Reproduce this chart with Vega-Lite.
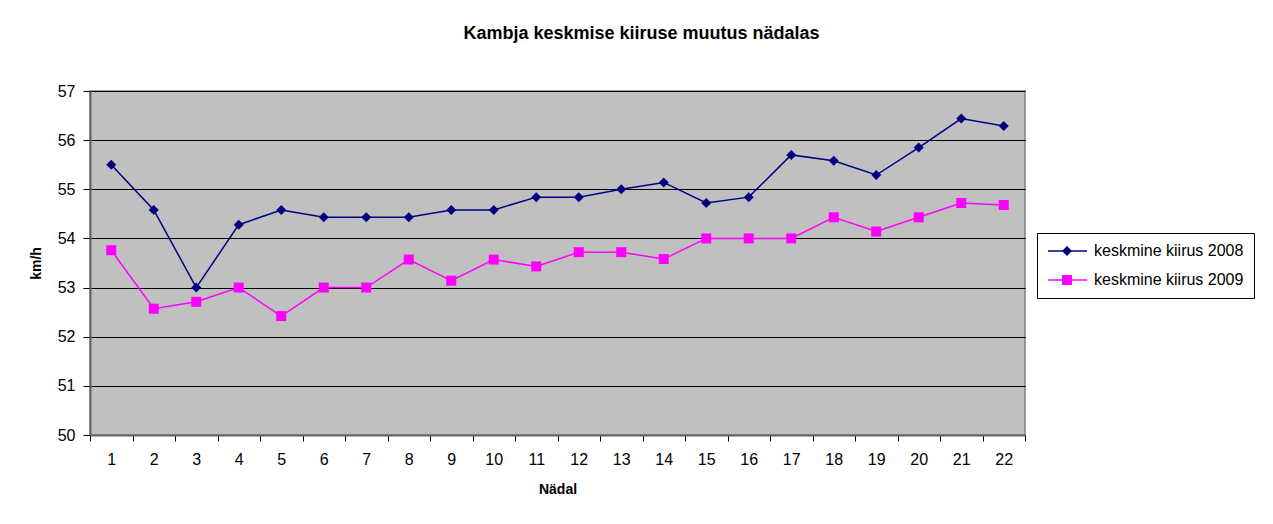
{
  "$schema": "https://vega.github.io/schema/vega-lite/v6.json",
  "width": 935,
  "height": 344,
  "autosize": "none",
  "padding": {"left": 90, "top": 91, "right": 248, "bottom": 89},
  "background": "white",
  "title": {
    "text": "Kambja keskmise kiiruse muutus nädalas",
    "font": "Liberation Sans",
    "fontSize": 18,
    "fontWeight": "bold",
    "color": "black",
    "anchor": "middle",
    "frame": "group",
    "dx": 84,
    "offset": 40
  },
  "config": {
    "view": {"fill": "#C0C0C0", "stroke": "#808080", "strokeWidth": 1.5},
    "font": "Liberation Sans"
  },
  "data": {
    "values": [
      {"week": 1, "year": "2008", "series": "keskmine kiirus 2008", "speed": 55.5},
      {"week": 2, "year": "2008", "series": "keskmine kiirus 2008", "speed": 54.58},
      {"week": 3, "year": "2008", "series": "keskmine kiirus 2008", "speed": 53.0},
      {"week": 4, "year": "2008", "series": "keskmine kiirus 2008", "speed": 54.28},
      {"week": 5, "year": "2008", "series": "keskmine kiirus 2008", "speed": 54.58},
      {"week": 6, "year": "2008", "series": "keskmine kiirus 2008", "speed": 54.43},
      {"week": 7, "year": "2008", "series": "keskmine kiirus 2008", "speed": 54.43},
      {"week": 8, "year": "2008", "series": "keskmine kiirus 2008", "speed": 54.43},
      {"week": 9, "year": "2008", "series": "keskmine kiirus 2008", "speed": 54.58},
      {"week": 10, "year": "2008", "series": "keskmine kiirus 2008", "speed": 54.58},
      {"week": 11, "year": "2008", "series": "keskmine kiirus 2008", "speed": 54.84},
      {"week": 12, "year": "2008", "series": "keskmine kiirus 2008", "speed": 54.84},
      {"week": 13, "year": "2008", "series": "keskmine kiirus 2008", "speed": 55.0},
      {"week": 14, "year": "2008", "series": "keskmine kiirus 2008", "speed": 55.14},
      {"week": 15, "year": "2008", "series": "keskmine kiirus 2008", "speed": 54.72},
      {"week": 16, "year": "2008", "series": "keskmine kiirus 2008", "speed": 54.84},
      {"week": 17, "year": "2008", "series": "keskmine kiirus 2008", "speed": 55.7},
      {"week": 18, "year": "2008", "series": "keskmine kiirus 2008", "speed": 55.58},
      {"week": 19, "year": "2008", "series": "keskmine kiirus 2008", "speed": 55.29},
      {"week": 20, "year": "2008", "series": "keskmine kiirus 2008", "speed": 55.85},
      {"week": 21, "year": "2008", "series": "keskmine kiirus 2008", "speed": 56.44},
      {"week": 22, "year": "2008", "series": "keskmine kiirus 2008", "speed": 56.29},
      {"week": 1, "year": "2009", "series": "keskmine kiirus 2009", "speed": 53.76},
      {"week": 2, "year": "2009", "series": "keskmine kiirus 2009", "speed": 52.57},
      {"week": 3, "year": "2009", "series": "keskmine kiirus 2009", "speed": 52.71},
      {"week": 4, "year": "2009", "series": "keskmine kiirus 2009", "speed": 53.0},
      {"week": 5, "year": "2009", "series": "keskmine kiirus 2009", "speed": 52.42},
      {"week": 6, "year": "2009", "series": "keskmine kiirus 2009", "speed": 53.0},
      {"week": 7, "year": "2009", "series": "keskmine kiirus 2009", "speed": 53.0},
      {"week": 8, "year": "2009", "series": "keskmine kiirus 2009", "speed": 53.57},
      {"week": 9, "year": "2009", "series": "keskmine kiirus 2009", "speed": 53.14},
      {"week": 10, "year": "2009", "series": "keskmine kiirus 2009", "speed": 53.57},
      {"week": 11, "year": "2009", "series": "keskmine kiirus 2009", "speed": 53.43},
      {"week": 12, "year": "2009", "series": "keskmine kiirus 2009", "speed": 53.72},
      {"week": 13, "year": "2009", "series": "keskmine kiirus 2009", "speed": 53.72},
      {"week": 14, "year": "2009", "series": "keskmine kiirus 2009", "speed": 53.58},
      {"week": 15, "year": "2009", "series": "keskmine kiirus 2009", "speed": 54.0},
      {"week": 16, "year": "2009", "series": "keskmine kiirus 2009", "speed": 54.0},
      {"week": 17, "year": "2009", "series": "keskmine kiirus 2009", "speed": 54.0},
      {"week": 18, "year": "2009", "series": "keskmine kiirus 2009", "speed": 54.43},
      {"week": 19, "year": "2009", "series": "keskmine kiirus 2009", "speed": 54.14},
      {"week": 20, "year": "2009", "series": "keskmine kiirus 2009", "speed": 54.43},
      {"week": 21, "year": "2009", "series": "keskmine kiirus 2009", "speed": 54.72},
      {"week": 22, "year": "2009", "series": "keskmine kiirus 2009", "speed": 54.68}
    ]
  },
  "encoding": {
    "x": {
      "field": "week",
      "type": "ordinal",
      "sort": null,
      "scale": {"type": "band", "paddingInner": 0, "paddingOuter": 0},
      "axis": {
        "title": "Nädal",
        "titleFont": "Liberation Sans",
        "titleFontSize": 14,
        "titleFontWeight": "bold",
        "titleColor": "black",
        "titlePadding": 15,
        "labelAngle": 0,
        "labelFont": "Liberation Sans",
        "labelFontSize": 16,
        "labelColor": "black",
        "labelPadding": 10,
        "tickBand": "extent",
        "tickColor": "black",
        "tickSize": 6,
        "domainColor": "#666666",
        "domainWidth": 2,
        "grid": false
      }
    },
    "y": {
      "field": "speed",
      "type": "quantitative",
      "scale": {"domain": [50, 57], "nice": false, "zero": false},
      "axis": {
        "title": "km/h",
        "titleFont": "Liberation Sans",
        "titleFontSize": 14,
        "titleFontWeight": "bold",
        "titleColor": "black",
        "titlePadding": 14,
        "values": [50, 51, 52, 53, 54, 55, 56, 57],
        "labelFont": "Liberation Sans",
        "labelFontSize": 16,
        "labelColor": "black",
        "labelPadding": 8,
        "tickColor": "black",
        "tickSize": 7,
        "domainColor": "#666666",
        "domainWidth": 2,
        "grid": true,
        "gridColor": "black",
        "gridWidth": 1,
        "gridOpacity": 1
      }
    }
  },
  "layer": [
    {
      "mark": {"type": "line", "strokeWidth": 1.5},
      "encoding": {
        "color": {
          "field": "series",
          "type": "nominal",
          "scale": {"domain": ["keskmine kiirus 2008", "keskmine kiirus 2009"], "range": ["#000080", "#FF00FF"]},
          "legend": {
            "title": null,
            "orient": "none",
            "legendX": 947,
            "legendY": 142,
            "fillColor": "white",
            "strokeColor": "black",
            "padding": 10,
            "labelFont": "Liberation Sans",
            "labelFontSize": 16,
            "labelColor": "black",
            "labelOffset": 6,
            "labelLimit": 300,
            "clipHeight": 16,
            "rowPadding": 13,
            "symbolType": "stroke",
            "symbolSize": 1521,
            "symbolStrokeWidth": 1.5,
            "zindex": 0
          }
        }
      }
    },
    {
      "mark": {"type": "point", "filled": true, "opacity": 1, "size": 100, "strokeWidth": 0},
      "encoding": {
        "fill": {
          "field": "year",
          "type": "nominal",
          "scale": {"domain": ["2008", "2009"], "range": ["#000080", "#FF00FF"]},
          "legend": {
            "title": null,
            "orient": "none",
            "legendX": 962,
            "legendY": 142,
            "padding": 10,
            "labelExpr": "''",
            "clipHeight": 16,
            "rowPadding": 13,
            "symbolSize": 100,
            "symbolStrokeWidth": 0,
            "symbolOpacity": 1,
            "zindex": 1
          }
        },
        "shape": {
          "field": "year",
          "type": "nominal",
          "scale": {"domain": ["2008", "2009"], "range": ["diamond", "square"]},
          "legend": {
            "title": null,
            "orient": "none",
            "legendX": 962,
            "legendY": 142,
            "padding": 10,
            "labelExpr": "''",
            "clipHeight": 16,
            "rowPadding": 13,
            "symbolSize": 100,
            "symbolStrokeWidth": 0,
            "symbolOpacity": 1,
            "zindex": 1,
            "encode": {
              "symbols": {
                "update": {
                  "size": {"signal": "datum.value === '2008' ? 100 : 81"}
                }
              }
            }
          }
        }
      }
    }
  ]
}
